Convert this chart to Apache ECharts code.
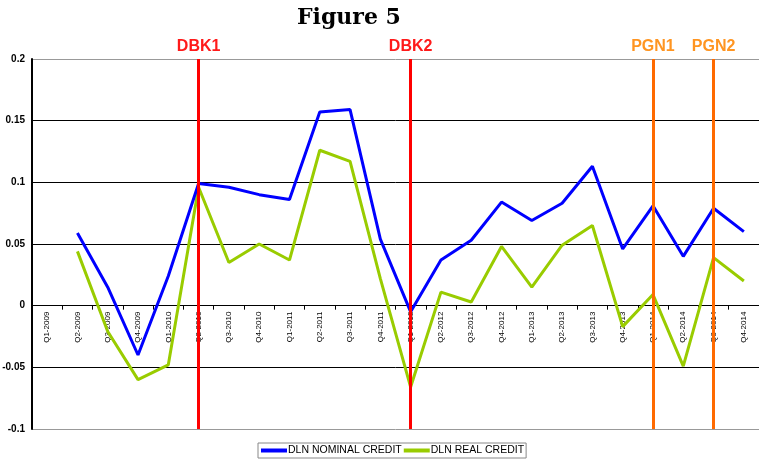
<!DOCTYPE html>
<html><head><meta charset="utf-8">
<script src="https://cdn.jsdelivr.net/npm/echarts@6/dist/echarts.min.js"></script>
<style>html,body{margin:0;padding:0;background:#fff}#c{width:759px;height:461px}</style>
</head><body><div id="c"></div>
<script>
const categories = ['Q1-2009','Q2-2009','Q3-2009','Q4-2009','Q1-2010','Q2-2010','Q3-2010','Q4-2010',
 'Q1-2011','Q2-2011','Q3-2011','Q4-2011','Q1-2012','Q2-2012','Q3-2012','Q4-2012',
 'Q1-2013','Q2-2013','Q3-2013','Q4-2013','Q1-2014','Q2-2014','Q3-2014','Q4-2014'];
const nominal = [null,0.059,0.015,-0.040,0.024,0.099,0.096,0.090,0.086,0.157,0.159,0.054,-0.005,0.037,0.053,0.084,0.069,0.083,0.113,0.046,0.081,0.040,0.079,0.060];
const real = [null,0.044,-0.021,-0.060,-0.048,0.096,0.035,0.050,0.037,0.126,0.117,0.022,-0.066,0.011,0.003,0.048,0.015,0.049,0.065,-0.017,0.009,-0.049,0.039,0.020];
const events = [
  {name:'DBK1', at:'Q2-2010', color:'#ff0000', labelColor:'#ff1a1a'},
  {name:'DBK2', at:'Q1-2012', color:'#ff0000', labelColor:'#ff1a1a'},
  {name:'PGN1', at:'Q1-2014', color:'#ff6a00', labelColor:'#ff9521'},
  {name:'PGN2', at:'Q3-2014', color:'#ff6a00', labelColor:'#ff9521'}
];
const yTicks = {min:-0.1, max:0.2, interval:0.05};

const gridTop = 59, gridBottom = 32, H = 461;
const plotH = H - gridTop - gridBottom;
const zeroOffset = -plotH * (0 - yTicks.min) / (yTicks.max - yTicks.min);

const chart = echarts.init(document.getElementById('c'), null, {renderer:'canvas'});
chart.setOption({
  animation:false,
  title:{text:'Figure 5', left:292, top:2,
    textStyle:{fontFamily:'DejaVu Serif', fontWeight:'bold', fontSize:22, color:'#000'}},
  grid:{left:32, right:0, top:gridTop, bottom:gridBottom, containLabel:false, outerBoundsMode:'none'},
  legend:{left:258, top:443, itemWidth:26, itemHeight:4, itemGap:2,
    borderColor:'#888', borderWidth:1, padding:[2,2,2,3],
    icon:'rect',
    textStyle:{fontFamily:'Liberation Sans', fontSize:10.5, color:'#000', padding:[0,0,0,-4]},
    data:['DLN NOMINAL CREDIT','DLN REAL CREDIT']},
  xAxis:{type:'category', data:categories, boundaryGap:true, position:'bottom', offset:zeroOffset,
    axisLine:{onZero:false, lineStyle:{color:'#000', width:1}},
    axisTick:{show:true, length:4, lineStyle:{color:'#000'}},
    axisLabel:{rotate:90, fontSize:8, fontFamily:'Liberation Sans', color:'#000', margin:6, interval:0},
    splitLine:{show:false}},
  yAxis:{type:'value', min:yTicks.min, max:yTicks.max, interval:yTicks.interval,
    axisLine:{show:true, lineStyle:{color:'#000', width:2}},
    axisTick:{show:false},
    axisLabel:{fontSize:10, fontWeight:'bold', fontFamily:'Liberation Sans', color:'#000', margin:7,
      formatter:v=>String(parseFloat(v.toFixed(2)))},
    splitLine:{show:true, lineStyle:{color:['#999','#000','#000','#000','#000','#000','#999'], width:1}}},
  series:[
    {name:'DLN NOMINAL CREDIT', type:'line', data:nominal, color:'#0000ff',
     symbol:'none', lineStyle:{width:3, color:'#0000ff'}, z:3},
    {name:'DLN REAL CREDIT', type:'line', data:real, color:'#99cc00',
     symbol:'none', lineStyle:{width:3, color:'#99cc00'}, z:2,
     markLine:{silent:true, symbol:['none','none'], animation:false,
       data:events.map(e=>({xAxis:e.at, name:e.name,
         lineStyle:{color:e.color, width:3, type:'solid'},
         label:{show:true, position:'end', formatter:e.name, color:e.labelColor,
           fontFamily:'Liberation Sans', fontWeight:'bold', fontSize:16, distance:4}}))}}
  ]
});
</script></body></html>
